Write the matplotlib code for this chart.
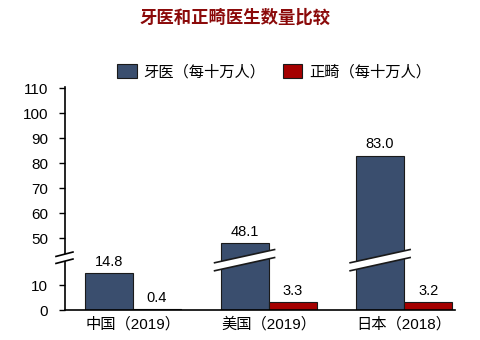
import numpy as np
import matplotlib
matplotlib.use("Agg")
from matplotlib import pyplot as plt
from matplotlib.patches import Polygon, Rectangle, Patch
from matplotlib.lines import Line2D
from matplotlib.transforms import IdentityTransform

plt.rcParams['font.family'] = ['Liberation Sans', 'Noto Sans CJK SC', 'DejaVu Sans']

# data
countries = ['中国（2019）', '美国（2019）', '日本（2018）']
dentists = [14.8, 48.1, 83.0]
orthodontists = [0.4, 3.3, 3.2]
series_names = ['牙医（每十万人）', '正畸（每十万人）']
yticks = [0, 10, 50, 60, 70, 80, 90, 100, 110]

blue = '#3a4e6e'
red = '#a50000'
edge = '#1a1a1a'

# broken y axis: values between LOW and HIGH are squeezed into GAP units
LOW, HIGH, GAP = 18.0, 46.0, 6.8


def fwd(y):
    y = np.asarray(y, dtype=float)
    return np.where(y <= LOW, y,
                    np.where(y >= HIGH, y - (HIGH - LOW) + GAP,
                             LOW + (y - LOW) * GAP / (HIGH - LOW)))


def inv(z):
    z = np.asarray(z, dtype=float)
    return np.where(z <= LOW, z,
                    np.where(z >= LOW + GAP, z + (HIGH - LOW) - GAP,
                             LOW + (z - LOW) * (HIGH - LOW) / GAP))


fig = plt.figure(figsize=(4.81, 3.40), dpi=100)
ax = fig.add_axes([0.1351, 0.0882, 0.811, 0.6566])

x = np.arange(len(countries))
w = 0.354
b1 = ax.bar(x - w / 2, dentists, w, color=blue, edgecolor=edge, linewidth=0.8)
b2 = ax.bar(x + w / 2, orthodontists, w, color=red, edgecolor=edge, linewidth=0.8)

ax.set_yscale('function', functions=(fwd, inv))
ax.set_ylim(0, 110.5)
ax.set_xlim(-0.502, 2.376)
ax.set_yticks(yticks)
ax.set_yticklabels([str(t) for t in yticks])
ax.yaxis.set_minor_locator(plt.NullLocator())
ax.set_xticks(x)
ax.set_xticklabels(countries)

for s in ['top', 'right']:
    ax.spines[s].set_visible(False)
for s in ['left', 'bottom']:
    ax.spines[s].set_linewidth(1.2)
    ax.spines[s].set_color('black')
ax.tick_params(axis='y', direction='out', length=4, width=1.0, labelsize=11, pad=8)
ax.tick_params(axis='x', length=0, labelsize=11, pad=5)

# value labels
for bars in (b1, b2):
    for r in bars:
        v = r.get_height()
        ax.annotate(f'{v:.1f}', (r.get_x() + r.get_width() / 2, v),
                    xytext=(0, 3), textcoords='offset points',
                    ha='center', va='bottom', fontsize=10.5)

# break marks, drawn in pixels around anchors on the axis and the tall bars
band_y = 26.0
for i, v in enumerate(dentists):
    if v <= HIGH:
        continue
    cx, cy = ax.transData.transform((x[i] - w / 2, band_y))
    hw, s, t = 30, 0.22, 8
    yl, yr = cy - hw * s, cy + hw * s
    band = Polygon([(cx - hw, yl - t / 2), (cx + hw, yr - t / 2),
                    (cx + hw, yr + t / 2), (cx - hw, yl + t / 2)],
                   closed=True, facecolor='white', edgecolor='none',
                   transform=IdentityTransform(), zorder=5)
    fig.add_artist(band)
    for d in (-t / 2, t / 2):
        fig.add_artist(Line2D([cx - hw, cx + hw], [yl + d, yr + d],
                              color=edge, linewidth=1.2,
                              transform=IdentityTransform(), zorder=6))

sx, sy = ax.transData.transform((-0.502, 30.0))
fig.add_artist(Rectangle((sx - 3, sy - 3.5), 6, 7, facecolor='white',
                         edgecolor='none', transform=IdentityTransform(), zorder=5))
for d in (-3.5, 3.5):
    fig.add_artist(Line2D([sx - 9, sx + 8], [sy + d - 2.2, sy + d + 2.2],
                          color='black', linewidth=1.2,
                          transform=IdentityTransform(), zorder=6))

# title and legend
fig.text(0.489, 0.947, '牙医和正畸医生数量比较', ha='center', va='center',
         fontsize=12.5, fontweight='bold', color='#8b0a0a',
         family=['Noto Sans CJK SC'])

handles = [Patch(facecolor=blue, edgecolor=edge, linewidth=0.8),
           Patch(facecolor=red, edgecolor=edge, linewidth=0.8)]
fig.legend(handles, series_names, loc='center', bbox_to_anchor=(0.5700, 0.788),
           ncol=2, frameon=False, handlelength=1.3,
           handleheight=1.05, handletextpad=0.45, columnspacing=1.1,
           prop={'family': ['Noto Sans CJK SC'], 'size': 11})

fig.savefig('out.png', dpi=100)
